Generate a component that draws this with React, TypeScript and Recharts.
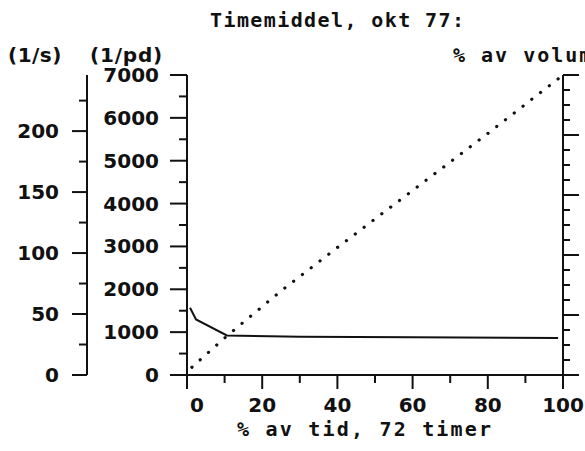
import { LineChart, Line, XAxis, YAxis } from 'recharts';

// flow per person-day
const flowTime = [0.8, 2.4, 10.6, 30, 60, 98.7];
const flowPd = [1570, 1295, 922, 892, 880, 862];

// cumulative % of volume, the dotted curve
const volTime = [1.3, 10.6, 25, 40, 60, 80, 99];
const volPct = [2.6, 13, 28, 42.5, 61.5, 80.5, 99];

const xTicks = [0, 10, 20, 30, 40, 50, 60, 70, 80, 90, 100];
const xLabels = [0, 20, 40, 60, 80, 100];
const pdTicks = [0, 500, 1000, 1500, 2000, 2500, 3000, 3500, 4000, 4500, 5000, 5500, 6000, 6500, 7000];
const pdLabels = [0, 1000, 2000, 3000, 4000, 5000, 6000, 7000];
const sTicks = [0, 25, 50, 75, 100, 125, 150, 175, 200, 225];
const sLabels = [0, 50, 100, 150, 200];
const volTicks = [0, 5, 10, 15, 20, 25, 30, 35, 40, 45, 50, 55, 60, 65, 70, 75, 80, 85, 90, 95, 100];
const volMajor = [0, 20, 40, 60, 80, 100];

const flowData = flowTime.map((t, i) => ({ t, v: flowPd[i] }));
const volData = volTime.map((t, i) => ({ t, v: volPct[i] }));

const INK = '#111';
const NUM_FONT = { fontFamily: '"DejaVu Sans", sans-serif', fontWeight: 700, fontSize: 20 };
const TXT_FONT = { fontFamily: '"DejaVu Sans Mono", monospace', fontWeight: 700, fontSize: 20 };

function leftTick(labels: number[], major: number, minor: number) {
  return (props: any) => {
    const { x, y, payload } = props;
    const isMajor = labels.includes(payload.value);
    return (
      <g>
        <line x1={x - (isMajor ? major : minor)} x2={x} y1={y} y2={y} stroke={INK} strokeWidth={2} />
        {isMajor && (
          <text x={x - 28} y={y + 7} textAnchor="end" fill={INK} {...NUM_FONT}>
            {payload.value}
          </text>
        )}
      </g>
    );
  };
}

const rightTick = (props: any) => {
  const { x, y, payload } = props;
  const len = volMajor.includes(payload.value) ? 16 : 7;
  return <line x1={x} x2={x + len} y1={y} y2={y} stroke={INK} strokeWidth={2} />;
};

const bottomTick = (props: any) => {
  const { x, y, payload } = props;
  const isMajor = xLabels.includes(payload.value);
  return (
    <g>
      <line x1={x} x2={x} y1={y} y2={y + (isMajor ? 14 : 8)} stroke={INK} strokeWidth={2} />
      {isMajor && (
        <text x={x + (payload.value === 0 ? 10 : 0)} y={y + 37} textAnchor="middle" fill={INK} {...NUM_FONT}>
          {payload.value}
        </text>
      )}
    </g>
  );
};

const axisLine = { stroke: INK, strokeWidth: 2 };

export default function App() {
  return (
    <div style={{ position: 'absolute', left: 0, top: 0, width: 585, height: 451, background: '#fff' }}>
      <LineChart width={585} height={451} margin={{ top: 75, right: 0, bottom: 0, left: 0 }}>
        <XAxis
          dataKey="t"
          type="number"
          domain={[0, 100]}
          allowDataOverflow
          ticks={xTicks}
          interval={0}
          height={76}
          tickSize={0}
          tickMargin={0}
          tickLine={false}
          axisLine={axisLine}
          tick={bottomTick}
        />
        <YAxis
          yAxisId="pd"
          type="number"
          orientation="left"
          domain={[0, 7000]}
          allowDataOverflow
          ticks={pdTicks}
          interval={0}
          width={100}
          tickSize={0}
          tickMargin={0}
          tickLine={false}
          axisLine={axisLine}
          tick={leftTick(pdLabels, 17, 8)}
        />
        <YAxis
          yAxisId="s"
          type="number"
          orientation="left"
          domain={[0, 246]}
          allowDataOverflow
          ticks={sTicks}
          interval={0}
          width={87}
          tickSize={0}
          tickMargin={0}
          tickLine={false}
          axisLine={axisLine}
          tick={leftTick(sLabels, 15, 8)}
        />
        <YAxis
          yAxisId="vol"
          type="number"
          orientation="right"
          domain={[0, 100]}
          allowDataOverflow
          ticks={volTicks}
          interval={0}
          width={22}
          tickSize={0}
          tickMargin={0}
          tickLine={false}
          axisLine={axisLine}
          tick={rightTick}
        />
        <Line
          data={flowData}
          dataKey="v"
          yAxisId="pd"
          type="linear"
          stroke={INK}
          strokeWidth={2}
          dot={false}
          isAnimationActive={false}
        />
        <Line
          data={volData}
          dataKey="v"
          yAxisId="vol"
          type="linear"
          stroke={INK}
          strokeWidth={3.2}
          strokeDasharray="0.1 11"
          strokeLinecap="round"
          dot={false}
          isAnimationActive={false}
        />
      </LineChart>
      <svg
        width={585}
        height={451}
        style={{ position: 'absolute', left: 0, top: 0, pointerEvents: 'none' }}
      >
        <text x={210} y={27} fill={INK} {...TXT_FONT} letterSpacing={1.4}>
          Timemiddel, okt 77:
        </text>
        <text x={8} y={62} fill={INK} {...NUM_FONT} letterSpacing={0.5}>
          (1/s)
        </text>
        <text x={90} y={62} fill={INK} {...NUM_FONT} letterSpacing={0.8}>
          (1/pd)
        </text>
        <text x={453} y={62} fill={INK} {...TXT_FONT} letterSpacing={2}>
          % av volum
        </text>
        <text x={237} y={436} fill={INK} {...TXT_FONT} letterSpacing={2.2}>
          % av tid, 72 timer
        </text>
      </svg>
    </div>
  );
}
